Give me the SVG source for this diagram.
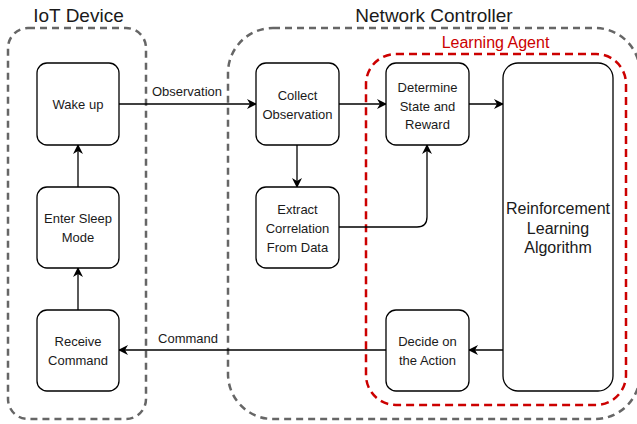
<svg xmlns="http://www.w3.org/2000/svg" width="637" height="424" viewBox="0 0 637 424">
<defs>
<style>
.cont{fill:none;stroke:#666666;stroke-width:2.5;stroke-dasharray:7 5;}
.agent{fill:none;stroke:#CC0000;stroke-width:2.5;stroke-dasharray:8 5;}
.node rect{fill:#ffffff;stroke:#000000;stroke-width:1.3;}
.node text{font-family:"Liberation Sans",Arial,sans-serif;font-size:13px;fill:#1a1a1a;text-anchor:middle;}
.title{font-family:"Liberation Sans",Arial,sans-serif;font-size:19px;fill:#1a1a1a;text-anchor:middle;}
.lbl{font-family:"Liberation Sans",Arial,sans-serif;font-size:13px;fill:#1a1a1a;text-anchor:middle;}
.edge{fill:none;stroke:#000000;stroke-width:1.3;}
</style>
<marker id="arr" viewBox="0 0 10 10" refX="9" refY="5" markerWidth="10" markerHeight="10" markerUnits="userSpaceOnUse" orient="auto">
<path d="M0,0 L10,5 L0,10 L3,5 Z" fill="#000000"/>
</marker>
</defs>

<g id="iot-device">
<rect class="cont" x="8" y="28" width="138" height="391" rx="20"/>
<text class="title" x="78.5" y="22">IoT Device</text>
</g>
<g id="network-controller">
<rect class="cont" x="228" y="28" width="412" height="391" rx="45"/>
<text class="title" x="434" y="22">Network Controller</text>
</g>
<g id="learning-agent">
<rect class="agent" x="366" y="54" width="260" height="351" rx="30"/>
<text x="495.5" y="48" style="font-family:'Liberation Sans',Arial,sans-serif;font-size:16px;fill:#CC0000;text-anchor:middle;">Learning Agent</text>
</g>

<g id="connectors">
<line class="edge" x1="119" y1="104" x2="256" y2="104" marker-end="url(#arr)"/>
<text class="lbl" x="187" y="96">Observation</text>
<line class="edge" x1="78" y1="187" x2="78" y2="145" marker-end="url(#arr)"/>
<line class="edge" x1="78" y1="310" x2="78" y2="268" marker-end="url(#arr)"/>
<line class="edge" x1="297" y1="145" x2="297" y2="187" marker-end="url(#arr)"/>
<line class="edge" x1="339" y1="104" x2="386" y2="104" marker-end="url(#arr)"/>
<path class="edge" d="M339,227 L417,227 Q427,227 427,217 L427,145" marker-end="url(#arr)"/>
<line class="edge" x1="469" y1="104" x2="503" y2="104" marker-end="url(#arr)"/>
<line class="edge" x1="503" y1="350" x2="469" y2="350" marker-end="url(#arr)"/>
<line class="edge" x1="386" y1="350" x2="119" y2="350" marker-end="url(#arr)"/>
<text class="lbl" x="188" y="343">Command</text>
</g>

<g id="wake-up" class="node">
<rect x="37" y="63" width="82" height="82" rx="10"/>
<text x="78" y="108.5">Wake up</text>
</g>
<g id="enter-sleep" class="node">
<rect x="37" y="187" width="82" height="81" rx="10"/>
<text x="78" y="223">Enter Sleep</text>
<text x="78" y="242">Mode</text>
</g>
<g id="receive-command" class="node">
<rect x="37" y="310" width="82" height="81" rx="10"/>
<text x="78" y="346">Receive</text>
<text x="78" y="365">Command</text>
</g>
<g id="collect-observation" class="node">
<rect x="256" y="63" width="83" height="82" rx="10"/>
<text x="297.5" y="99.5">Collect</text>
<text x="297.5" y="119">Observation</text>
</g>
<g id="extract-correlation" class="node">
<rect x="256" y="187" width="83" height="81" rx="10"/>
<text x="297.5" y="213.5">Extract</text>
<text x="297.5" y="232.5">Correlation</text>
<text x="297.5" y="251.5">From Data</text>
</g>
<g id="determine-state" class="node">
<rect x="386" y="63" width="83" height="82" rx="10"/>
<text x="427.5" y="91.5">Determine</text>
<text x="427.5" y="110.5">State and</text>
<text x="427.5" y="129">Reward</text>
</g>
<g id="rl-algorithm" class="node">
<rect x="503" y="63" width="110" height="328" rx="15"/>
<text x="558" y="214" style="font-size:16px">Reinforcement</text>
<text x="558" y="233.5" style="font-size:16px">Learning</text>
<text x="558" y="253" style="font-size:16px">Algorithm</text>
</g>
<g id="decide-action" class="node">
<rect x="386" y="310" width="83" height="81" rx="10"/>
<text x="427.5" y="346">Decide on</text>
<text x="427.5" y="365">the Action</text>
</g>
</svg>
